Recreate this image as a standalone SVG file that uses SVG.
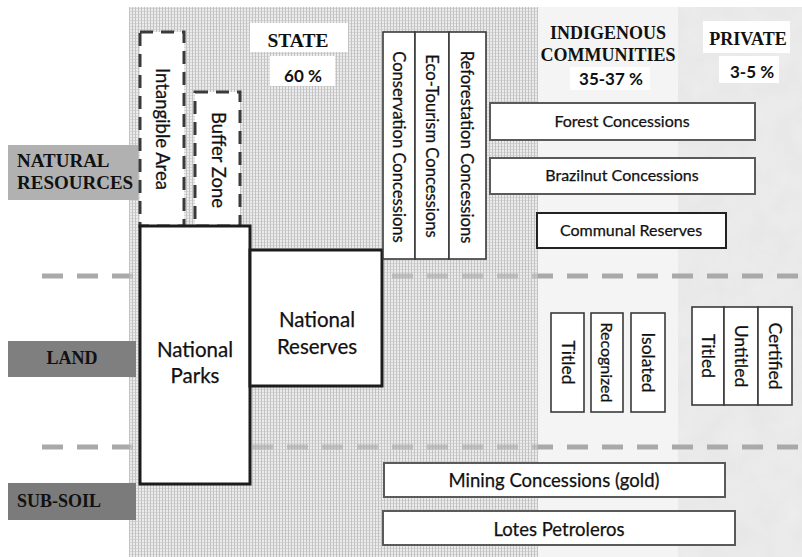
<svg xmlns="http://www.w3.org/2000/svg" width="802" height="557" viewBox="0 0 802 557">
  <defs>
    <!-- fine stipple used for the state-owned area -->
    <pattern id="stipple" width="3" height="3" patternUnits="userSpaceOnUse">
      <rect width="3" height="3" fill="#ebebeb"/>
      <rect width="1" height="3" fill="#c3c3c3"/>
      <rect x="1" y="2" width="2" height="1" fill="#d4d4d4"/>
    </pattern>
    <!-- soft mottled texture for the private area -->
    <filter id="marble" x="0" y="0" width="100%" height="100%">
      <feTurbulence type="fractalNoise" baseFrequency="0.04" numOctaves="3" seed="4" result="n"/>
      <feColorMatrix in="n" type="matrix" values="0 0 0 0 0.86  0 0 0 0 0.86  0 0 0 0 0.86  0 0 0 -0.9 0.9" result="g"/>
      <feComposite in="g" in2="SourceGraphic" operator="in"/>
    </filter>
    <style>
      .hdr { font-family: "Liberation Serif", "Times New Roman", serif; font-weight: bold; font-size: 18px; fill: #111; }
      .hdr-l { font-size: 19.5px; }
      .hdr-r { font-size: 19px; }
      .pct { font-family: Lato, "Open Sans", sans-serif; font-weight: bold; font-size: 17px; fill: #111; }
      .lbl { font-family: Lato, "Open Sans", sans-serif; font-size: 16px; fill: #111; stroke: #111; stroke-width: 0.25; }
      .vlbl { font-size: 18.5px; }
      .clbl { font-size: 16.6px; }
      .llbl { font-size: 17.5px; }
      .big { font-family: Lato, "Open Sans", sans-serif; font-size: 18.5px; fill: #111; stroke: #111; stroke-width: 0.25; }
      .nat { font-size: 20.5px; }
      .white { fill: #ffffff; }
      .box { fill: #ffffff; stroke: #3a3a3a; stroke-width: 1.6; }
      .gbox { fill: #ffffff; stroke: #5a5a5a; stroke-width: 2; }
      .thick { fill: #ffffff; stroke: #1c1c1c; stroke-width: 3; }
      .dash { fill: #ffffff; stroke: #3a3a3a; stroke-width: 3; stroke-dasharray: 13 8; }
      .level { fill: none; stroke: #a9a9a9; stroke-width: 5; stroke-dasharray: 21 14; }
    </style>
  </defs>

  <rect width="802" height="557" fill="#ffffff"/>

  <!-- ownership areas -->
  <g id="area-state">
    <rect x="129" y="7" width="409" height="550" fill="url(#stipple)"/>
  </g>
  <g id="area-indigenous">
    <rect x="538" y="7" width="140" height="550" fill="#f4f4f4"/>
  </g>
  <g id="area-private">
    <rect x="678" y="7" width="124" height="550" fill="#e6e6e6"/>
    <rect x="678" y="7" width="124" height="550" fill="#e6e6e6" filter="url(#marble)" opacity="0.9"/>
  </g>

  <!-- level separators -->
  <g id="connectors">
    <line class="level" x1="42" y1="276" x2="802" y2="276"/>
    <line class="level" x1="42" y1="447" x2="802" y2="447"/>
    <!-- the stipple shows through the separators inside the state area -->
    <rect x="129" y="270" width="409" height="12" fill="url(#stipple)" opacity="0.4"/>
    <rect x="129" y="441" width="409" height="12" fill="url(#stipple)" opacity="0.4"/>
  </g>

  <!-- row labels -->
  <g id="row-natural-resources">
    <rect x="8" y="145" width="130" height="55" fill="#b1b1b1"/>
    <text class="hdr hdr-r" x="17" y="167">NATURAL</text>
    <text class="hdr hdr-r" x="17" y="189">RESOURCES</text>
  </g>
  <g id="row-land">
    <rect x="8" y="341" width="128" height="36" fill="#7f7f7f"/>
    <text class="hdr" x="72" y="364" text-anchor="middle">LAND</text>
  </g>
  <g id="row-sub-soil">
    <rect x="8" y="483" width="128" height="37" fill="#7b7b7b"/>
    <text class="hdr" x="17" y="507">SUB-SOIL</text>
  </g>

  <!-- column headings -->
  <g id="head-state">
    <rect class="white" x="250" y="23" width="98" height="29"/>
    <text class="hdr hdr-l" x="298" y="47" text-anchor="middle">STATE</text>
    <rect class="white" x="270" y="56" width="65" height="30"/>
    <text class="pct" x="303" y="82" text-anchor="middle">60 %</text>
  </g>
  <g id="head-indigenous">
    <text class="hdr" x="608" y="39" text-anchor="middle">INDIGENOUS</text>
    <text class="hdr" x="608" y="61" text-anchor="middle">COMMUNITIES</text>
    <rect class="white" x="570" y="67" width="80" height="23"/>
    <text class="pct" x="611" y="85" text-anchor="middle">35-37 %</text>
  </g>
  <g id="head-private">
    <rect class="white" x="703" y="21" width="87" height="32"/>
    <text class="hdr" x="748" y="45" text-anchor="middle">PRIVATE</text>
    <rect class="white" x="719" y="56" width="60" height="27"/>
    <text class="pct" x="752" y="78" text-anchor="middle">3-5 %</text>
  </g>

  <!-- state areas -->
  <g id="intangible-area">
    <rect class="dash" x="140" y="32" width="44" height="194"/>
    <text class="lbl vlbl" transform="translate(162 129) rotate(90)" text-anchor="middle" dy="6.5">Intangible Area</text>
  </g>
  <g id="buffer-zone">
    <rect class="dash" x="195" y="92" width="45" height="134"/>
    <text class="lbl vlbl" transform="translate(218 160) rotate(90)" text-anchor="middle" dy="6.5">Buffer Zone</text>
  </g>
  <g id="national-parks">
    <rect class="thick" x="140" y="226" width="110" height="258"/>
    <text class="big nat" x="195" y="357" text-anchor="middle">National</text>
    <text class="big nat" x="195" y="383" text-anchor="middle">Parks</text>
  </g>
  <g id="national-reserves">
    <rect class="thick" x="250" y="250" width="132" height="136"/>
    <text class="big nat" x="317" y="327" text-anchor="middle">National</text>
    <text class="big nat" x="317" y="354" text-anchor="middle">Reserves</text>
  </g>
  <g id="conservation-concessions">
    <rect class="box" x="383" y="32" width="32" height="227"/>
    <text class="lbl clbl" transform="translate(399 147) rotate(90)" text-anchor="middle" dy="6">Conservation Concessions</text>
  </g>
  <g id="eco-tourism-concessions">
    <rect class="box" x="415" y="32" width="34" height="227"/>
    <text class="lbl clbl" transform="translate(432 146) rotate(90)" text-anchor="middle" dy="6">Eco-Tourism Concessions</text>
  </g>
  <g id="reforestation-concessions">
    <rect class="box" x="449" y="32" width="37" height="227"/>
    <text class="lbl clbl" transform="translate(467 147) rotate(90)" text-anchor="middle" dy="6">Reforestation Concessions</text>
  </g>

  <!-- natural resource concessions -->
  <g id="forest-concessions">
    <rect class="gbox" x="490" y="103" width="265" height="37"/>
    <text class="lbl" x="622" y="127" text-anchor="middle">Forest Concessions</text>
  </g>
  <g id="brazilnut-concessions">
    <rect class="gbox" x="490" y="158" width="265" height="36"/>
    <text class="lbl" x="622" y="181" text-anchor="middle">Brazilnut Concessions</text>
  </g>
  <g id="communal-reserves">
    <rect class="box" x="537" y="213" width="189" height="35" style="stroke:#222;stroke-width:2"/>
    <text class="lbl" x="631" y="236" text-anchor="middle">Communal Reserves</text>
  </g>

  <!-- indigenous land -->
  <g id="indigenous-titled">
    <rect class="box" x="551" y="313" width="33" height="99"/>
    <text class="lbl llbl" transform="translate(567.5 362.5) rotate(90)" text-anchor="middle" dy="6">Titled</text>
  </g>
  <g id="indigenous-recognized">
    <rect class="box" x="591" y="313" width="32" height="99"/>
    <text class="lbl" transform="translate(607 362.5) rotate(90)" text-anchor="middle" dy="6">Recognized</text>
  </g>
  <g id="indigenous-isolated">
    <rect class="box" x="631" y="313" width="34" height="99"/>
    <text class="lbl llbl" transform="translate(648 362.5) rotate(90)" text-anchor="middle" dy="6">Isolated</text>
  </g>

  <!-- private land -->
  <g id="private-titled">
    <rect class="box" x="692" y="307" width="32" height="98"/>
    <text class="lbl llbl" transform="translate(708 356) rotate(90)" text-anchor="middle" dy="6">Titled</text>
  </g>
  <g id="private-untitled">
    <rect class="box" x="724" y="307" width="34" height="98"/>
    <text class="lbl llbl" transform="translate(741 356) rotate(90)" text-anchor="middle" dy="6">Untitled</text>
  </g>
  <g id="private-certified">
    <rect class="box" x="758" y="307" width="34" height="98"/>
    <text class="lbl llbl" transform="translate(775 356) rotate(90)" text-anchor="middle" dy="6">Certified</text>
  </g>

  <!-- sub-soil concessions -->
  <g id="mining-concessions">
    <rect class="gbox" x="384" y="463" width="341" height="34"/>
    <text class="big" x="554" y="487" text-anchor="middle">Mining Concessions (gold)</text>
  </g>
  <g id="lotes-petroleros">
    <rect class="gbox" x="383" y="511" width="352" height="34"/>
    <text class="big" x="559" y="536" text-anchor="middle">Lotes Petroleros</text>
  </g>
</svg>
